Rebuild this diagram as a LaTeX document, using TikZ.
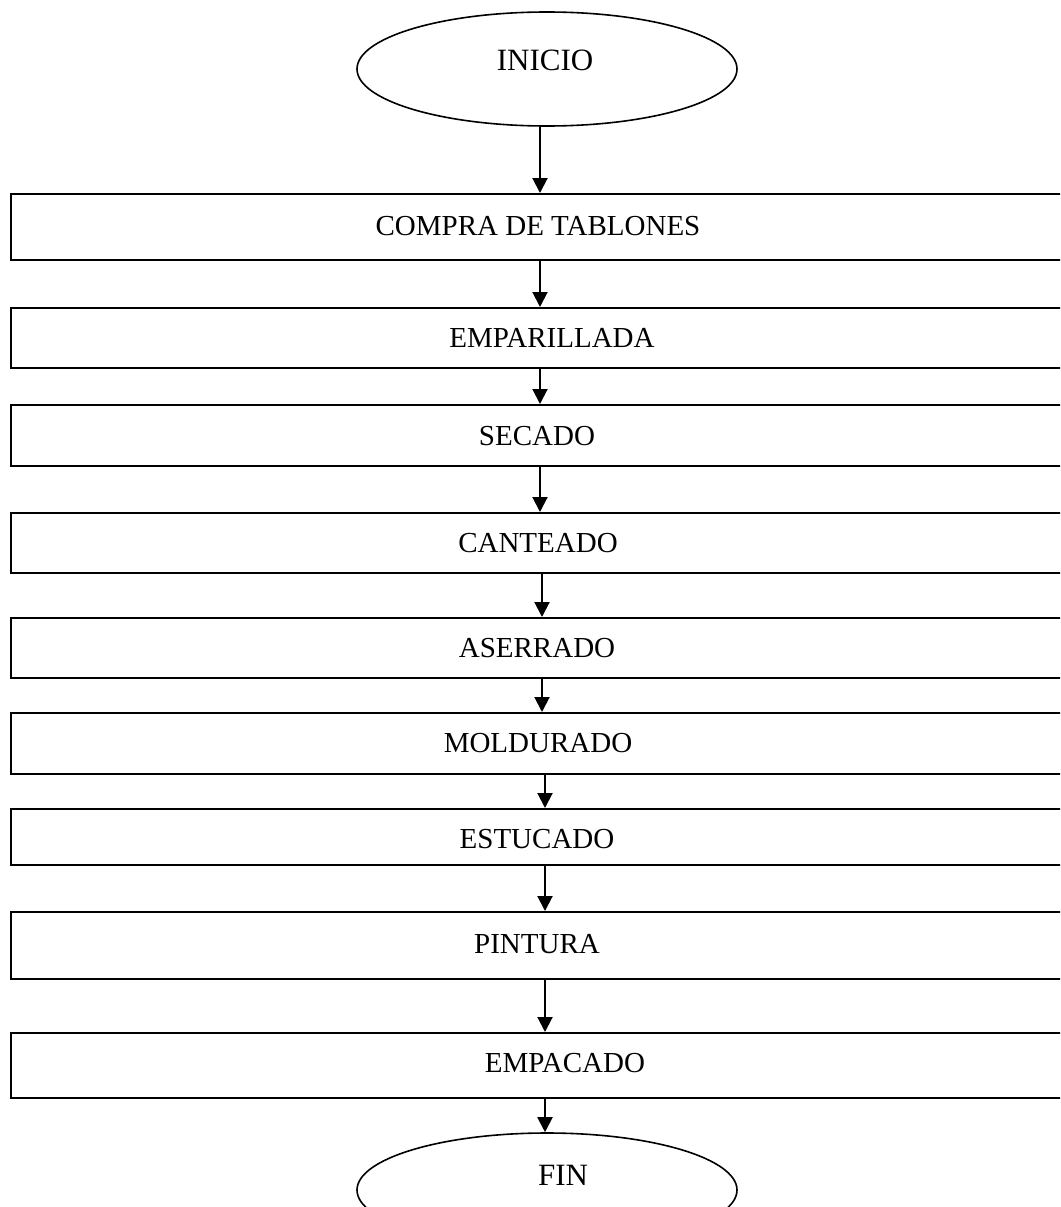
\documentclass[tikz,border=0pt]{standalone}
\usepackage{fontspec}
\setmainfont{Liberation Serif}
\usetikzlibrary{shapes.geometric,arrows.meta}
\begin{document}
\begin{tikzpicture}[x=1pt,y=-1pt,
  stepbox/.style={draw, line width=2pt, rectangle, minimum width=1090pt,
    inner sep=0pt, anchor=north west},
  steptext/.style={font=\fontsize{29pt}{34pt}\selectfont, inner sep=0pt},
  terminal/.style={draw, ellipse, line width=1.6pt, minimum width=380pt,
    minimum height=114pt, inner sep=0pt},
  termtext/.style={font=\fontsize{31pt}{36pt}\selectfont, inner sep=0pt},
  flow/.style={line width=2pt, -{Triangle[width=15pt,length=15pt]}}]
\useasboundingbox (0,0) rectangle (1060,1207);
\clip (0,0) rectangle (1060,1207);

% start / end terminals
\node[terminal] (inicio) at (547,69) {};
\node[termtext] (tinicio) at (545,60) {INICIO};
\node[terminal] (fin) at (547,1190) {};
\node[termtext] (tfin) at (563,1175) {FIN};

% process steps
\node[stepbox, minimum height=66pt] (c1) at (10,193) {};
\node[stepbox, minimum height=60pt] (c2) at (10,307) {};
\node[stepbox, minimum height=61pt] (c3) at (10,404) {};
\node[stepbox, minimum height=60pt] (c4) at (10,512) {};
\node[stepbox, minimum height=60pt] (c5) at (10,617) {};
\node[stepbox, minimum height=61pt] (c6) at (10,712) {};
\node[stepbox, minimum height=56pt] (c7) at (10,808) {};
\node[stepbox, minimum height=67pt] (c8) at (10,911) {};
\node[stepbox, minimum height=65pt] (c9) at (10,1032) {};

\node[steptext] (t1) at (538,226) {COMPRA DE TABLONES};
\node[steptext] (t2) at (552,338) {EMPARILLADA};
\node[steptext] (t3) at (537,436) {SECADO};
\node[steptext] (t4) at (538,543) {CANTEADO};
\node[steptext] (t5) at (537,648) {ASERRADO};
\node[steptext] (t6) at (538,743) {MOLDURADO};
\node[steptext] (t7) at (537,839) {ESTUCADO};
\node[steptext] (t8) at (537,944) {PINTURA};
\node[steptext] (t9) at (565,1063) {EMPACADO};

% vertical guides for the connectors
\coordinate (xa) at (540,0);
\coordinate (xb) at (542,0);
\coordinate (xc) at (545,0);

\draw[flow] (inicio.south -| xa) -- (c1.north -| xa);
\draw[flow] (c1.south -| xa) -- (c2.north -| xa);
\draw[flow] (c2.south -| xa) -- (c3.north -| xa);
\draw[flow] (c3.south -| xa) -- (c4.north -| xa);
\draw[flow] (c4.south -| xb) -- (c5.north -| xb);
\draw[flow] (c5.south -| xb) -- (c6.north -| xb);
\draw[flow] (c6.south -| xc) -- (c7.north -| xc);
\draw[flow] (c7.south -| xc) -- (c8.north -| xc);
\draw[flow] (c8.south -| xc) -- (c9.north -| xc);
\draw[flow] (c9.south -| xc) -- (fin.north -| xc);
\end{tikzpicture}
\end{document}
